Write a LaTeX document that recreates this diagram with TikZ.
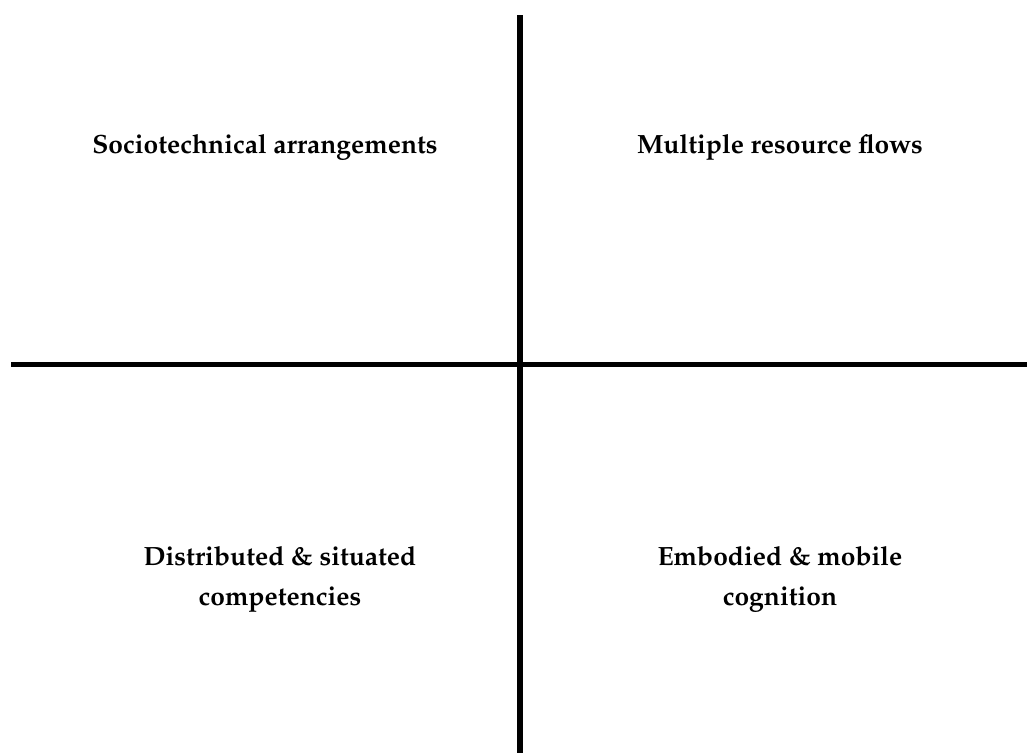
\documentclass[tikz,border=0pt]{standalone}
\usepackage[T1]{fontenc}
\renewcommand{\rmdefault}{ppl}
\begin{document}
\begin{tikzpicture}[x=1pt,y=-1pt,
  axis/.style={line width=5.5pt, black},
  label/.style={font=\fontsize{26.4}{40}\selectfont\bfseries, align=center}]
\useasboundingbox (0,0) rectangle (1027,753);
% quadrant dividers
\coordinate (top) at (520,15);
\coordinate (bottom) at (520,753);
\coordinate (left) at (11,364.5);
\coordinate (right) at (1027,364.5);
\draw[axis] (top) -- (bottom);
\draw[axis] (left) -- (right);
% quadrant labels
\node[label] (q1) at (265,147) {Sociotechnical arrangements};
\node[label] (q2) at (780,147) {Multiple resource flows};
\node[label] (q3) at (280,579) {Distributed \& situated\\competencies};
\node[label] (q4) at (780,579) {Embodied \& mobile\\cognition};
\end{tikzpicture}
\end{document}
